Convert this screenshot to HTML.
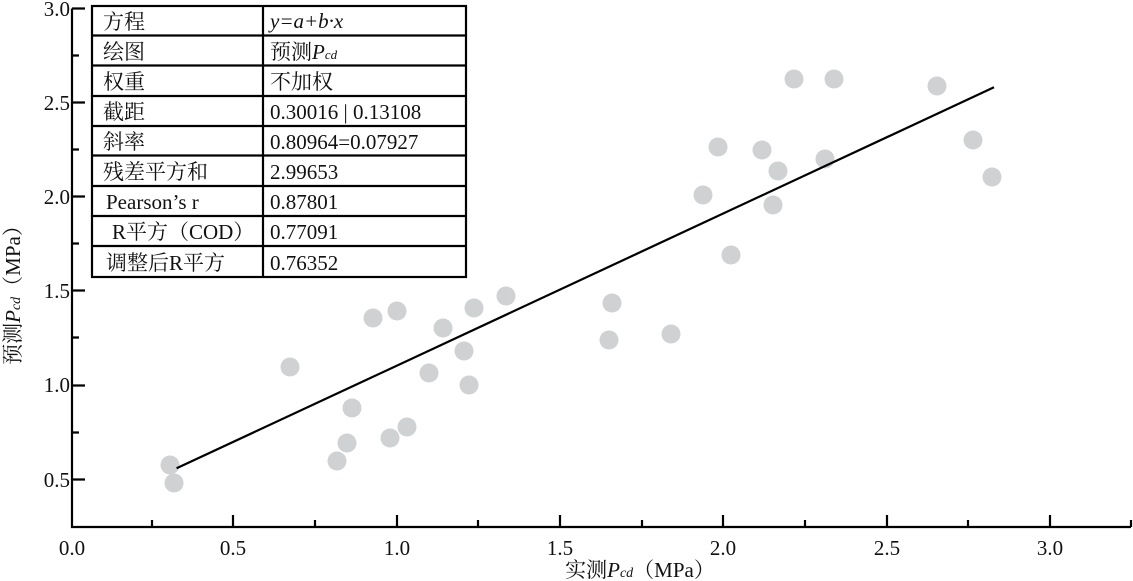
<!DOCTYPE html>
<html><head><meta charset="utf-8"><style>
html,body{margin:0;padding:0;background:#fff;}
svg{display:block;}
text{font-family:"Liberation Serif","Noto Serif CJK SC",serif;fill:#111;}
</style></head><body>
<svg width="1133" height="581" viewBox="0 0 1133 581" xmlns="http://www.w3.org/2000/svg">
<g fill="#d0d1d3">
<circle cx="170" cy="465" r="9.5"/><circle cx="174" cy="483" r="9.5"/><circle cx="290" cy="367" r="9.5"/>
<circle cx="337" cy="461" r="9.5"/><circle cx="347" cy="443" r="9.5"/><circle cx="352" cy="408" r="9.5"/>
<circle cx="373" cy="318" r="9.5"/><circle cx="390" cy="438" r="9.5"/><circle cx="397" cy="311" r="9.5"/>
<circle cx="407" cy="427" r="9.5"/><circle cx="429" cy="373" r="9.5"/><circle cx="411" cy="235" r="9.5"/>
<circle cx="430" cy="256" r="9.5"/><circle cx="443" cy="328" r="9.5"/><circle cx="464" cy="351" r="9.5"/>
<circle cx="469" cy="385" r="9.5"/><circle cx="474" cy="308" r="9.5"/><circle cx="506" cy="296" r="9.5"/>
<circle cx="609" cy="340" r="9.5"/><circle cx="612" cy="303" r="9.5"/><circle cx="671" cy="334" r="9.5"/>
<circle cx="703" cy="195" r="9.5"/><circle cx="718" cy="147" r="9.5"/><circle cx="731" cy="255" r="9.5"/>
<circle cx="762" cy="150" r="9.5"/><circle cx="773" cy="205" r="9.5"/><circle cx="778" cy="171" r="9.5"/>
<circle cx="794" cy="79" r="9.5"/><circle cx="825" cy="159" r="9.5"/><circle cx="834" cy="79" r="9.5"/>
<circle cx="937" cy="86" r="9.5"/><circle cx="973" cy="140" r="9.5"/><circle cx="992" cy="177" r="9.5"/>
</g>
<line x1="176.6" y1="468.3" x2="994" y2="87.3" stroke="#000" stroke-width="2.2"/>
<g stroke="#000" stroke-width="2.2" fill="none">
<path d="M72 8.5 V527 H1131"/>
<path d="M72 8.5 h13 M72 55.5 h7 M72 102.5 h13 M72 149.5 h7 M72 196.5 h13 M72 243.5 h7 M72 290.5 h13 M72 337.5 h7 M72 385.5 h13 M72 432.5 h7 M72 479.5 h13"/>
<path d="M152 527 v-7 M233 527 v-12 M315 527 v-7 M397 527 v-12 M478 527 v-7 M560 527 v-12 M642 527 v-7 M723 527 v-12 M805 527 v-7 M887 527 v-12 M968 527 v-7 M1050 527 v-12 M1131 527 v-7"/>
</g>
<g font-size="21" text-anchor="end">
<text x="70" y="16">3.0</text><text x="70" y="110">2.5</text><text x="70" y="204">2.0</text>
<text x="70" y="298">1.5</text><text x="70" y="392">1.0</text><text x="70" y="487">0.5</text>
</g>
<g font-size="21" text-anchor="middle">
<text x="72" y="555">0.0</text><text x="233" y="555">0.5</text><text x="397" y="555">1.0</text>
<text x="560" y="555">1.5</text><text x="723" y="555">2.0</text><text x="887" y="555">2.5</text><text x="1050" y="555">3.0</text>
</g>
<text x="640" y="577" font-size="21" text-anchor="middle">实测<tspan font-style="italic">P</tspan><tspan font-style="italic" font-size="14">cd</tspan>（MPa）</text>
<text transform="translate(20,290) rotate(-90)" font-size="21" text-anchor="middle">预测<tspan font-style="italic">P</tspan><tspan font-style="italic" font-size="14">cd</tspan>（MPa）</text>
<rect x="92" y="6" width="374" height="271" fill="#fff" stroke="#000" stroke-width="2.2"/>
<g stroke="#000" stroke-width="2.2">
<line x1="263" y1="6" x2="263" y2="277"/>
<line x1="92" y1="35.5" x2="466" y2="35.5"/><line x1="92" y1="65.5" x2="466" y2="65.5"/>
<line x1="92" y1="96" x2="466" y2="96"/><line x1="92" y1="126" x2="466" y2="126"/>
<line x1="92" y1="155.5" x2="466" y2="155.5"/><line x1="92" y1="186" x2="466" y2="186"/>
<line x1="92" y1="216" x2="466" y2="216"/><line x1="92" y1="246" x2="466" y2="246"/>
</g>
<g font-size="21">
<text x="103" y="29">方程</text><text x="103" y="59">绘图</text><text x="103" y="89">权重</text>
<text x="103" y="119">截距</text><text x="103" y="149">斜率</text><text x="103" y="179">残差平方和</text>
<text x="106" y="209">Pearson’s r</text><text x="112" y="239">R平方（COD）</text><text x="106" y="270">调整后R平方</text>
<text x="270" y="28" font-style="italic">y=a+b·x</text>
<text x="270" y="59">预测<tspan font-style="italic">P</tspan><tspan font-style="italic" font-size="13">cd</tspan></text>
<text x="270" y="89">不加权</text><text x="270" y="119">0.30016 | 0.13108</text>
<text x="270" y="149">0.80964=0.07927</text><text x="270" y="179">2.99653</text>
<text x="270" y="209">0.87801</text><text x="270" y="239">0.77091</text><text x="270" y="270">0.76352</text>
</g>
</svg>
</body></html>
